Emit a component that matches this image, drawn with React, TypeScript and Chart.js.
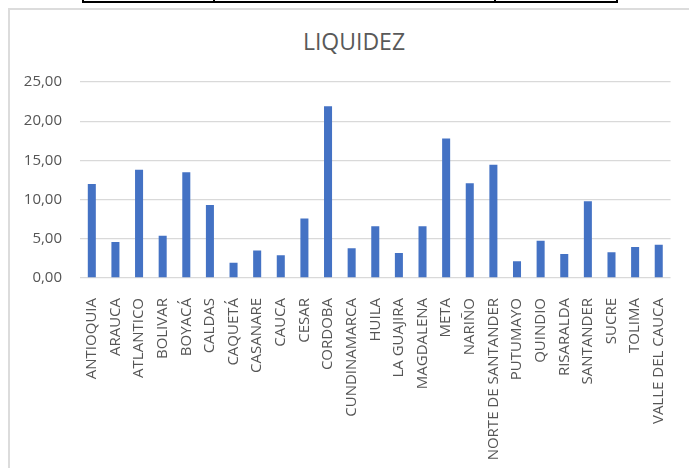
import { useEffect, useRef } from 'react';
import { Chart, registerables } from 'chart.js';

Chart.register(...registerables);

const categories = [
  'ANTIOQUIA', 'ARAUCA', 'ATLANTICO', 'BOLIVAR', 'BOYACÁ', 'CALDAS', 'CAQUETÁ',
  'CASANARE', 'CAUCA', 'CESAR', 'CORDOBA', 'CUNDINAMARCA', 'HUILA', 'LA GUAJIRA',
  'MAGDALENA', 'META', 'NARIÑO', 'NORTE DE SANTANDER', 'PUTUMAYO', 'QUINDIO',
  'RISARALDA', 'SANTANDER', 'SUCRE', 'TOLIMA', 'VALLE DEL CAUCA',
];

const liquidez = [
  12.0, 4.6, 13.8, 5.4, 13.5, 9.3, 1.95, 3.5, 2.9, 7.6, 21.9, 3.8, 6.6, 3.2,
  6.6, 17.8, 12.1, 14.45, 2.15, 4.75, 3.05, 9.8, 3.3, 3.95, 4.25,
];

const chartTitle = 'LIQUIDEZ';
const yMin = 0;
const yMax = 25;
const yStep = 5;

export default function App() {
  const ref = useRef<HTMLCanvasElement>(null);

  useEffect(() => {
    const chart = new Chart(ref.current as HTMLCanvasElement, {
      type: 'bar',
      data: {
        labels: categories,
        datasets: [
          {
            data: liquidez,
            backgroundColor: '#4472C4',
            barPercentage: 0.34,
            categoryPercentage: 1,
          },
        ],
      },
      options: {
        responsive: false,
        animation: false,
        layout: { padding: { top: 82, right: 13, left: 0, bottom: 0 } },
        plugins: {
          legend: { display: false },
          title: { display: false },
          tooltip: { enabled: false },
        },
        scales: {
          x: {
            grid: { display: false },
            border: { display: false },
            ticks: {
              minRotation: 90,
              maxRotation: 90,
              autoSkip: false,
              padding: 12,
              color: '#555555',
              font: { family: 'Open Sans', size: 15 },
            },
            afterFit: (s: any) => {
              s.height = 190;
            },
          },
          y: {
            min: yMin,
            max: yMax,
            ticks: {
              stepSize: yStep,
              padding: 18,
              color: '#555555',
              font: { family: 'Open Sans', size: 15 },
              callback: (v: any) => Number(v).toFixed(2).replace('.', ','),
            },
            grid: { color: '#d9d9d9', drawTicks: false, lineWidth: 1.3 },
            border: { display: false },
            afterFit: (s: any) => {
              s.width = 80;
            },
          },
        },
      },
    });
    return () => chart.destroy();
  }, []);

  return (
    <div
      style={{
        position: 'absolute',
        left: 0,
        top: 0,
        width: 689,
        height: 468,
        overflow: 'hidden',
        background: '#fff',
      }}
    >
      <div
        style={{
          position: 'absolute',
          left: 82,
          top: -10,
          width: 536,
          height: 13,
          border: '2px solid #000',
          boxSizing: 'border-box',
        }}
      />
      <div style={{ position: 'absolute', left: 213, top: -10, width: 2, height: 13, background: '#000' }} />
      <div style={{ position: 'absolute', left: 494, top: -10, width: 2, height: 13, background: '#000' }} />
      <div
        style={{
          position: 'absolute',
          left: 8,
          top: 8,
          width: 700,
          height: 500,
          border: '2px solid #dcdcdc',
          boxSizing: 'border-box',
        }}
      />
      <div
        style={{
          position: 'absolute',
          left: 254,
          width: 200,
          top: 26,
          textAlign: 'center',
          fontFamily: 'Open Sans',
          fontSize: 23,
          lineHeight: '30px',
          color: '#595959',
        }}
      >
        {chartTitle}
      </div>
      <canvas
        ref={ref}
        width={689}
        height={468}
        style={{ position: 'absolute', left: 0, top: 0 }}
      />
    </div>
  );
}
